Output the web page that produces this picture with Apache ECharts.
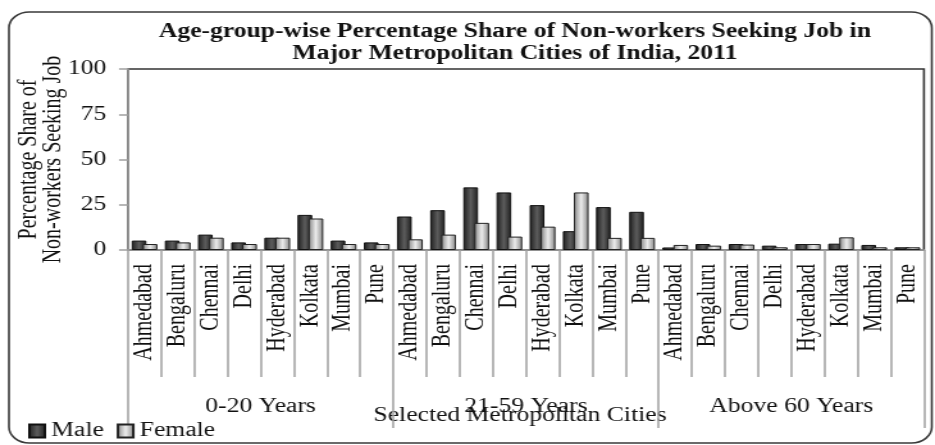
<!DOCTYPE html>
<html>
<head>
<meta charset="utf-8">
<script src="https://cdn.jsdelivr.net/npm/echarts@6/dist/echarts.min.js"></script>
<style>
html,body{margin:0;padding:0;background:#fff;overflow:hidden;width:935px;height:445px;}
#c{width:730px;height:445px;transform:scaleX(1.2808);transform-origin:0 0;}
</style>
</head>
<body>
<div id="c"></div>
<script>
// ---- data ----
const cities = ['Ahmedabad','Bengaluru','Chennai','Delhi','Hyderabad','Kolkata','Mumbai','Pune'];
const ageGroups = ['0-20 Years','21-59 Years','Above 60 Years'];
const male_0_20   = [5.2, 5.2, 8.5, 4.2, 6.8, 19.4, 5.2, 4.2];
const female_0_20 = [3.3, 4.2, 6.8, 3.3, 6.8, 17.4, 3.3, 3.3];
const male_21_59   = [18.5, 22.0, 34.6, 31.8, 24.8, 10.4, 23.7, 21.1];
const female_21_59 = [5.9, 8.5, 15.0, 7.4, 12.9, 31.8, 6.7, 6.7];
const male_60   = [1.4, 3.3, 3.3, 2.4, 3.3, 3.5, 2.8, 1.5];
const female_60 = [2.8, 2.4, 3.0, 1.5, 3.3, 7.0, 1.5, 1.5];
const yMin = 0, yMax = 100, yStep = 25;
const titleText = 'Age-group-wise Percentage Share of Non-workers Seeking Job in\nMajor Metropolitan Cities of India, 2011';
const yName = 'Percentage Share of\nNon-workers Seeking Job';
const xName = 'Selected Metropolitan Cities';

// ---- build ----
const categories = [].concat(cities, cities, cities);
const maleData = [].concat(male_0_20, male_21_59, male_60);
const femaleData = [].concat(female_0_20, female_21_59, female_60);

const FONT = '"Liberation Serif", "Times New Roman", serif';
const TXT = '#111';
const grad = (e, c) => new echarts.graphic.LinearGradient(0, 0, 1, 0, [
  {offset: 0, color: e}, {offset: 0.5, color: c}, {offset: 1, color: e}
]);

const chart = echarts.init(document.getElementById('c'), null, {renderer: 'canvas'});
chart.setOption({
  animation: false,
  backgroundColor: '#fff',
  textStyle: {fontFamily: FONT},
  grid: {left: 99.9, right: 8.6, top: 69, bottom: 195, show: true,
         borderColor: '#333', borderWidth: 1.6, backgroundColor: 'transparent'},
  legend: {
    left: 22, top: 421, padding: 0, itemWidth: 12, itemHeight: 13, itemGap: 10,
    icon: 'rect',
    textStyle: {fontFamily: FONT, fontSize: 20, color: TXT},
    data: ['Male', 'Female']
  },
  xAxis: [{
    type: 'category', data: categories, position: 'bottom',
    axisLine: {show: true, lineStyle: {color: '#a0a0a0', width: 1.5}},
    axisTick: {show: true, interval: 0, length: 127, lineStyle: {color: '#a0a0a0', width: 1.5}},
    axisLabel: {interval: 0, rotate: 90, margin: 14, hideOverlap: false,
                formatter: '{c|{value}}',
                rich: {c: {width: 106, align: 'right', fontFamily: FONT, fontSize: 20, color: TXT}},
                fontFamily: FONT, fontSize: 20, color: TXT}
  }, {
    type: 'category', data: ageGroups, position: 'bottom', gridIndex: 0,
    axisLine: {show: false},
    axisTick: {show: true, interval: 0, length: 178, lineStyle: {color: '#a0a0a0', width: 1.5}},
    axisLabel: {interval: 0, margin: 147, fontFamily: FONT, fontSize: 20, color: TXT}
  }],
  yAxis: {
    type: 'value', min: yMin, max: yMax, interval: yStep,
    name: yName, nameLocation: 'middle', nameGap: 48, nameMoveOverlap: false,
    nameTextStyle: {fontFamily: FONT, fontSize: 20, color: TXT, lineHeight: 19.5},
    axisLine: {show: true, lineStyle: {color: '#a0a0a0', width: 1.5}},
    axisTick: {show: true, length: 7, lineStyle: {color: '#a0a0a0', width: 1.5}},
    axisLabel: {margin: 17, fontFamily: FONT, fontSize: 20, color: TXT},
    splitLine: {show: false}
  },
  series: [{
    name: 'Male', type: 'bar', data: maleData, barWidth: 11.5, barGap: '-25%',
    itemStyle: {color: grad('#1e1e1e', '#5c5c5c'), borderColor: '#111', borderWidth: 1}
  }, {
    name: 'Female', type: 'bar', data: femaleData, barWidth: 11.5, barGap: '-25%',
    itemStyle: {color: grad('#858585', '#ececec'), borderColor: '#222', borderWidth: 1}
  }],
  graphic: [{
    type: 'rect', silent: true, z: -1,
    shape: {x: 7, y: 12, width: 720.5, height: 431, r: 16},
    style: {fill: 'none', stroke: '#3a3a3a', lineWidth: 1.6}
  }, {
    type: 'text', x: 402, y: 21, silent: true,
    style: {text: titleText, fontFamily: FONT, fontWeight: 'bold', fontSize: 20, lineHeight: 22,
            fill: TXT, align: 'center', textAlign: 'center', verticalAlign: 'top', textVerticalAlign: 'top'}
  }, {
    type: 'text', x: 406, y: 416, silent: true,
    style: {text: xName, fontFamily: FONT, fontSize: 20, fill: TXT,
            align: 'center', textAlign: 'center', verticalAlign: 'middle', textVerticalAlign: 'middle'}
  }]
});
</script>
</body>
</html>
